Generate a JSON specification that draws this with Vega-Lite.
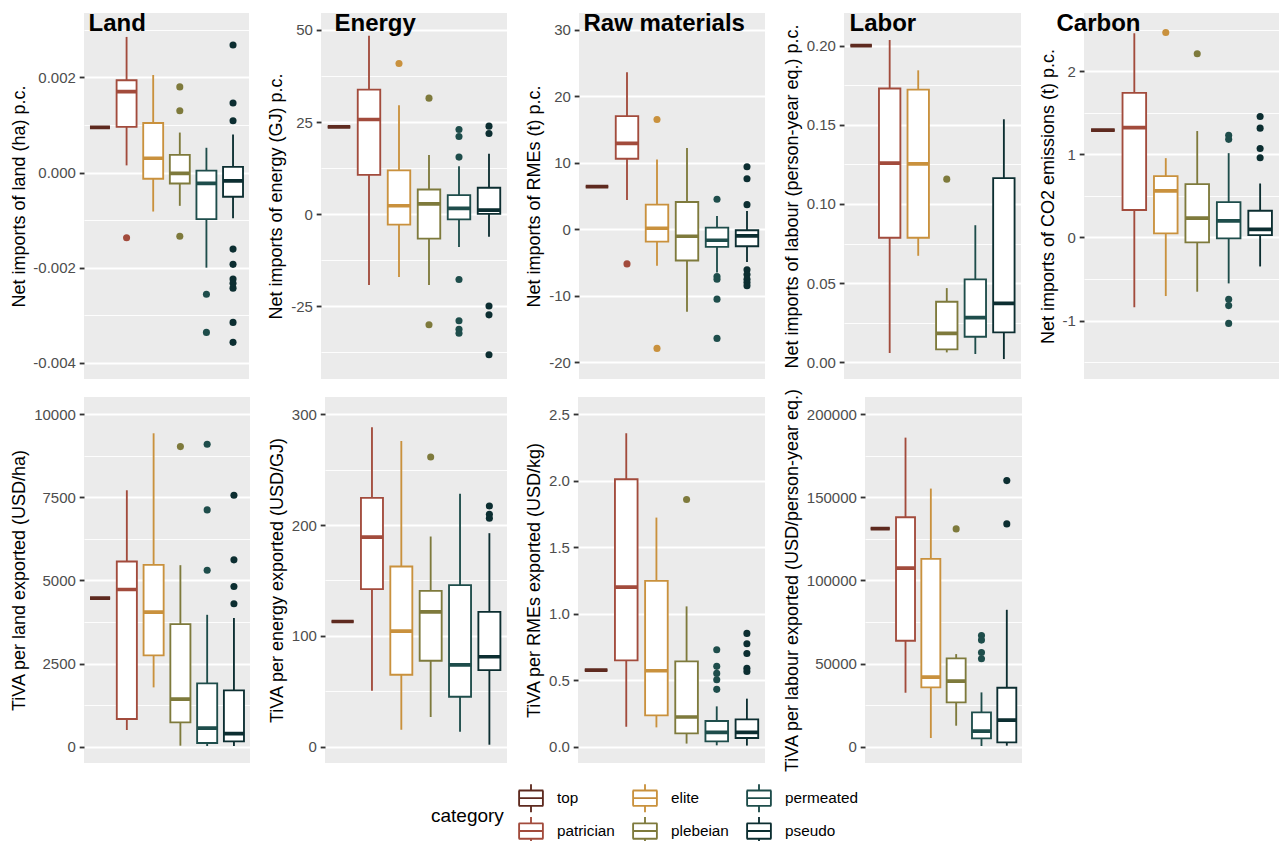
{
"$schema": "https://vega.github.io/schema/vega-lite/v6.json",
"background": "white",
"padding": {"left": 10, "top": 12, "right": 0, "bottom": 0},
"datasets": {
"boxes": [
{"p":"land_net","category":"top","lo":0.00095,"q1":0.00095,"med":0.00095,"q3":0.00095,"hi":0.00095},
{"p":"land_net","category":"patrician","lo":0.00015,"q1":0.00096,"med":0.0017,"q3":0.00194,"hi":0.00285},
{"p":"land_net","category":"elite","lo":-0.00082,"q1":-0.00013,"med":0.0003,"q3":0.00104,"hi":0.00205},
{"p":"land_net","category":"plebeian","lo":-0.0007,"q1":-0.00023,"med":-0.00002,"q3":0.00037,"hi":0.00084},
{"p":"land_net","category":"permeated","lo":-0.002,"q1":-0.00098,"med":-0.00023,"q3":0.00004,"hi":0.00052},
{"p":"land_net","category":"pseudo","lo":-0.00096,"q1":-0.00051,"med":-0.000175,"q3":0.00012,"hi":0.0008},
{"p":"energy_net","category":"top","lo":23.7,"q1":23.7,"med":23.7,"q3":23.7,"hi":23.7},
{"p":"energy_net","category":"patrician","lo":-19.2,"q1":10.7,"med":25.7,"q3":33.8,"hi":48.4},
{"p":"energy_net","category":"elite","lo":-17,"q1":-2.8,"med":2.3,"q3":11.9,"hi":29.6},
{"p":"energy_net","category":"plebeian","lo":-19.2,"q1":-6.6,"med":2.8,"q3":6.7,"hi":16.1},
{"p":"energy_net","category":"permeated","lo":-8.9,"q1":-1.4,"med":1.6,"q3":5.2,"hi":13},
{"p":"energy_net","category":"pseudo","lo":-6.1,"q1":0.1,"med":1.1,"q3":7.2,"hi":16.4},
{"p":"raw_net","category":"top","lo":6.4,"q1":6.4,"med":6.4,"q3":6.4,"hi":6.4},
{"p":"raw_net","category":"patrician","lo":4.4,"q1":10.6,"med":12.9,"q3":17.0,"hi":23.6},
{"p":"raw_net","category":"elite","lo":-5.5,"q1":-1.85,"med":0.15,"q3":3.7,"hi":10.5},
{"p":"raw_net","category":"plebeian","lo":-12.4,"q1":-4.7,"med":-1.05,"q3":4.1,"hi":12.2},
{"p":"raw_net","category":"permeated","lo":-6.5,"q1":-2.65,"med":-1.65,"q3":0.25,"hi":2.0},
{"p":"raw_net","category":"pseudo","lo":-4.9,"q1":-2.55,"med":-1.0,"q3":-0.15,"hi":2.75},
{"p":"labor_net","category":"top","lo":0.2,"q1":0.2,"med":0.2,"q3":0.2,"hi":0.2},
{"p":"labor_net","category":"patrician","lo":0.0059,"q1":0.0787,"med":0.1258,"q3":0.1729,"hi":0.2036},
{"p":"labor_net","category":"elite","lo":0.0673,"q1":0.0787,"med":0.1253,"q3":0.1722,"hi":0.1844},
{"p":"labor_net","category":"plebeian","lo":0.0063,"q1":0.0082,"med":0.0183,"q3":0.0383,"hi":0.0469},
{"p":"labor_net","category":"permeated","lo":0.0053,"q1":0.0162,"med":0.0282,"q3":0.0524,"hi":0.0866},
{"p":"labor_net","category":"pseudo","lo":0.0021,"q1":0.0189,"med":0.0372,"q3":0.1163,"hi":0.1535},
{"p":"carbon_net","category":"top","lo":1.29,"q1":1.29,"med":1.29,"q3":1.29,"hi":1.29},
{"p":"carbon_net","category":"patrician","lo":-0.84,"q1":0.33,"med":1.32,"q3":1.74,"hi":2.457},
{"p":"carbon_net","category":"elite","lo":-0.705,"q1":0.048,"med":0.561,"q3":0.737,"hi":0.954},
{"p":"carbon_net","category":"plebeian","lo":-0.653,"q1":-0.06,"med":0.232,"q3":0.641,"hi":1.28},
{"p":"carbon_net","category":"permeated","lo":-0.553,"q1":-0.012,"med":0.2,"q3":0.425,"hi":1.014},
{"p":"carbon_net","category":"pseudo","lo":-0.349,"q1":0.028,"med":0.096,"q3":0.321,"hi":0.649},
{"p":"land_tiva","category":"top","lo":4469,"q1":4469,"med":4469,"q3":4469,"hi":4469},
{"p":"land_tiva","category":"patrician","lo":501,"q1":832,"med":4729,"q3":5571,"hi":7715},
{"p":"land_tiva","category":"elite","lo":1784,"q1":2745,"med":4048,"q3":5471,"hi":9429},
{"p":"land_tiva","category":"plebeian","lo":30,"q1":731,"med":1433,"q3":3687,"hi":5461},
{"p":"land_tiva","category":"permeated","lo":20,"q1":110,"med":561,"q3":1904,"hi":3968},
{"p":"land_tiva","category":"pseudo","lo":20,"q1":160,"med":391,"q3":1693,"hi":3868},
{"p":"energy_tiva","category":"top","lo":113,"q1":113,"med":113,"q3":113,"hi":113},
{"p":"energy_tiva","category":"patrician","lo":50.5,"q1":142.2,"med":189.1,"q3":224.6,"hi":288.3},
{"p":"energy_tiva","category":"elite","lo":15.3,"q1":64.9,"med":104.3,"q3":162.6,"hi":276},
{"p":"energy_tiva","category":"plebeian","lo":26.8,"q1":77.6,"med":121.7,"q3":140.7,"hi":189.7},
{"p":"energy_tiva","category":"permeated","lo":13.5,"q1":45.1,"med":73.9,"q3":145.8,"hi":228.2},
{"p":"energy_tiva","category":"pseudo","lo":1.8,"q1":69.1,"med":81.2,"q3":121.7,"hi":192.7},
{"p":"raw_tiva","category":"top","lo":0.576,"q1":0.576,"med":0.576,"q3":0.576,"hi":0.576},
{"p":"raw_tiva","category":"patrician","lo":0.15,"q1":0.649,"med":1.2,"q3":2.011,"hi":2.357},
{"p":"raw_tiva","category":"elite","lo":0.145,"q1":0.235,"med":0.571,"q3":1.247,"hi":1.723},
{"p":"raw_tiva","category":"plebeian","lo":0.023,"q1":0.1,"med":0.223,"q3":0.641,"hi":1.055},
{"p":"raw_tiva","category":"permeated","lo":0.01,"q1":0.04,"med":0.108,"q3":0.193,"hi":0.303},
{"p":"raw_tiva","category":"pseudo","lo":0.008,"q1":0.065,"med":0.108,"q3":0.205,"hi":0.361},
{"p":"labor_tiva","category":"top","lo":131262,"q1":131262,"med":131262,"q3":131262,"hi":131262},
{"p":"labor_tiva","category":"patrician","lo":32465,"q1":63727,"med":107414,"q3":138076,"hi":185971},
{"p":"labor_tiva","category":"elite","lo":5210,"q1":35671,"med":41884,"q3":113026,"hi":155310},
{"p":"labor_tiva","category":"plebeian","lo":12625,"q1":26653,"med":39479,"q3":53106,"hi":55711},
{"p":"labor_tiva","category":"permeated","lo":401,"q1":5010,"med":9419,"q3":20641,"hi":32665},
{"p":"labor_tiva","category":"pseudo","lo":601,"q1":2605,"med":16032,"q3":35471,"hi":82364}
],
"outliers": [
{"p":"land_net","category":"patrician","v":-0.00137},
{"p":"land_net","category":"plebeian","v":0.0018},
{"p":"land_net","category":"plebeian","v":0.0013},
{"p":"land_net","category":"plebeian","v":-0.00134},
{"p":"land_net","category":"permeated","v":-0.00256},
{"p":"land_net","category":"permeated","v":-0.00336},
{"p":"land_net","category":"pseudo","v":0.00268},
{"p":"land_net","category":"pseudo","v":0.00146},
{"p":"land_net","category":"pseudo","v":0.00109},
{"p":"land_net","category":"pseudo","v":-0.00161},
{"p":"land_net","category":"pseudo","v":-0.00193},
{"p":"land_net","category":"pseudo","v":-0.00224},
{"p":"land_net","category":"pseudo","v":-0.00233},
{"p":"land_net","category":"pseudo","v":-0.00243},
{"p":"land_net","category":"pseudo","v":-0.00315},
{"p":"land_net","category":"pseudo","v":-0.00357},
{"p":"energy_net","category":"elite","v":40.9},
{"p":"energy_net","category":"plebeian","v":31.5},
{"p":"energy_net","category":"plebeian","v":-30},
{"p":"energy_net","category":"permeated","v":23},
{"p":"energy_net","category":"permeated","v":21.1},
{"p":"energy_net","category":"permeated","v":15.5},
{"p":"energy_net","category":"permeated","v":-17.7},
{"p":"energy_net","category":"permeated","v":-28.9},
{"p":"energy_net","category":"permeated","v":-31.2},
{"p":"energy_net","category":"permeated","v":-32.3},
{"p":"energy_net","category":"pseudo","v":23.9},
{"p":"energy_net","category":"pseudo","v":21.9},
{"p":"energy_net","category":"pseudo","v":-24.9},
{"p":"energy_net","category":"pseudo","v":-27.3},
{"p":"energy_net","category":"pseudo","v":-38.1},
{"p":"raw_net","category":"patrician","v":-5.2},
{"p":"raw_net","category":"elite","v":16.5},
{"p":"raw_net","category":"elite","v":-17.9},
{"p":"raw_net","category":"permeated","v":4.5},
{"p":"raw_net","category":"permeated","v":-7.1},
{"p":"raw_net","category":"permeated","v":-7.5},
{"p":"raw_net","category":"permeated","v":-10.5},
{"p":"raw_net","category":"permeated","v":-16.4},
{"p":"raw_net","category":"pseudo","v":9.4},
{"p":"raw_net","category":"pseudo","v":7.6},
{"p":"raw_net","category":"pseudo","v":3.7},
{"p":"raw_net","category":"pseudo","v":-6.1},
{"p":"raw_net","category":"pseudo","v":-6.8},
{"p":"raw_net","category":"pseudo","v":-7.5},
{"p":"raw_net","category":"pseudo","v":-8.0},
{"p":"raw_net","category":"pseudo","v":-8.5},
{"p":"labor_net","category":"plebeian","v":0.1157},
{"p":"carbon_net","category":"elite","v":2.465},
{"p":"carbon_net","category":"plebeian","v":2.21},
{"p":"carbon_net","category":"permeated","v":1.23},
{"p":"carbon_net","category":"permeated","v":1.18},
{"p":"carbon_net","category":"permeated","v":-0.745},
{"p":"carbon_net","category":"permeated","v":-0.82},
{"p":"carbon_net","category":"permeated","v":-1.034},
{"p":"carbon_net","category":"pseudo","v":1.455},
{"p":"carbon_net","category":"pseudo","v":1.315},
{"p":"carbon_net","category":"pseudo","v":1.07},
{"p":"carbon_net","category":"pseudo","v":0.958},
{"p":"land_tiva","category":"plebeian","v":9028},
{"p":"land_tiva","category":"permeated","v":9098},
{"p":"land_tiva","category":"permeated","v":7124},
{"p":"land_tiva","category":"permeated","v":5311},
{"p":"land_tiva","category":"pseudo","v":7565},
{"p":"land_tiva","category":"pseudo","v":5621},
{"p":"land_tiva","category":"pseudo","v":4820},
{"p":"land_tiva","category":"pseudo","v":4299},
{"p":"energy_tiva","category":"plebeian","v":261.5},
{"p":"energy_tiva","category":"pseudo","v":217.3},
{"p":"energy_tiva","category":"pseudo","v":209.8},
{"p":"energy_tiva","category":"pseudo","v":206.2},
{"p":"raw_tiva","category":"plebeian","v":1.859},
{"p":"raw_tiva","category":"permeated","v":0.729},
{"p":"raw_tiva","category":"permeated","v":0.604},
{"p":"raw_tiva","category":"permeated","v":0.551},
{"p":"raw_tiva","category":"permeated","v":0.503},
{"p":"raw_tiva","category":"permeated","v":0.431},
{"p":"raw_tiva","category":"pseudo","v":0.852},
{"p":"raw_tiva","category":"pseudo","v":0.774},
{"p":"raw_tiva","category":"pseudo","v":0.701},
{"p":"raw_tiva","category":"pseudo","v":0.589},
{"p":"raw_tiva","category":"pseudo","v":0.566},
{"p":"labor_tiva","category":"plebeian","v":131062},
{"p":"labor_tiva","category":"permeated","v":66934},
{"p":"labor_tiva","category":"permeated","v":64128},
{"p":"labor_tiva","category":"permeated","v":56713},
{"p":"labor_tiva","category":"permeated","v":52906},
{"p":"labor_tiva","category":"pseudo","v":160120},
{"p":"labor_tiva","category":"pseudo","v":134068}
]
},
"config": {
"font": "Liberation Sans",
"view": {"fill": "#EBEBEB", "stroke": null},
"axis": {"domain": false, "tickColor": "#333333", "tickWidth": 1.85, "tickSize": 4.8, "labelColor": "#4D4D4D", "labelFont": "Liberation Sans", "labelFontSize": 15, "labelPadding": 3.8, "labelOverlap": false, "titleFont": "Liberation Sans", "titleFontSize": 18, "titleFontWeight": "normal", "titleColor": "black", "titlePadding": 4.8, "gridColor": "white", "grid": true},
"legend": {"disable": true, "layout": {"bottom": {"anchor": "middle"}}}
},
"spacing": 8,
"vconcat": [
{"hconcat": [
{"width": 165, "height": 366,
"title": {"text": "Land", "anchor": "start", "frame": "group", "fontSize": 24, "fontWeight": "bold", "font": "Liberation Sans", "color": "black", "baseline": "top", "offset": -23, "dx": 4.5},
"layer": [
{"data": {"name": "boxes"}, "transform": [{"filter": "datum.p==='land_net'"}], "mark": {"type": "rule", "strokeWidth": 1.85},
"encoding": {"x": {"field": "category", "type": "nominal", "scale": {"type": "band", "domain": ["top","patrician","elite","plebeian","permeated","pseudo"], "paddingInner": 0.25, "paddingOuter": 0.225}, "axis": null},
"y": {"field": "lo", "type": "quantitative", "title": "Net imports of land (ha) p.c.", "scale": {"domain": [-0.00434, 0.003353], "nice": false, "zero": false},
"axis": {"values": [-0.004,-0.003,-0.002,-0.001,0,0.001,0.002,0.003], "labelExpr": "indexof([-0.004,-0.002,0,0.002],datum.value)>=0 ? replace(format(datum.value,'.3f'),'\u2212','-') : ''", "gridWidth": {"condition": {"test": "indexof([-0.004,-0.002,0,0.002],datum.value)>=0", "value": 1.85}, "value": 0.9}, "tickOpacity": {"condition": {"test": "indexof([-0.004,-0.002,0,0.002],datum.value)>=0", "value": 1}, "value": 0}}},
"y2": {"field": "hi"},
"color": {"field": "category", "type": "nominal", "scale": {"domain": ["top","elite","permeated","patrician","plebeian","pseudo"], "range": ["#5E2A1F","#C9913D","#1E4D4B","#A24B3C","#7E7A3C","#0C2E31"]}}}},
{"data": {"name": "boxes"}, "transform": [{"filter": "datum.p==='land_net'"}], "mark": {"type": "bar", "fill": "white", "strokeWidth": 1.85},
"encoding": {"x": {"field": "category", "type": "nominal", "scale": {"type": "band", "domain": ["top","patrician","elite","plebeian","permeated","pseudo"], "paddingInner": 0.25, "paddingOuter": 0.225}, "axis": null},
"y": {"field": "q1", "type": "quantitative", "title": "Net imports of land (ha) p.c."}, "y2": {"field": "q3"},
"stroke": {"field": "category", "type": "nominal", "scale": {"domain": ["top","elite","permeated","patrician","plebeian","pseudo"], "range": ["#5E2A1F","#C9913D","#1E4D4B","#A24B3C","#7E7A3C","#0C2E31"]},
"legend": {"title": "category", "orient": "bottom", "direction": "horizontal", "columns": 3, "symbolType": "M-0.88,-0.55H0.88 M0.85,-0.55V0.55 M0.88,0.55H-0.88 M-0.85,0.55V-0.55 M-0.85,0H0.85 M0,-1V-0.55 M0,0.55V1", "symbolSize": 784, "symbolStrokeWidth": 1.85, "symbolFillColor": "white", "labelFontSize": 15.3, "labelColor": "black", "titleFontSize": 19, "titleFontWeight": "normal", "titleColor": "black", "titleOrient": "left", "titleAnchor": "middle", "titleBaseline": "middle", "titlePadding": 12, "labelOffset": 11, "columnPadding": 13, "rowPadding": -5, "gridAlign": "each", "offset": 10}}}},
{"data": {"name": "boxes"}, "transform": [{"filter": "datum.p==='land_net'"}], "mark": {"type": "bar", "fillOpacity": 0, "strokeWidth": 3.7},
"encoding": {"x": {"field": "category", "type": "nominal", "scale": {"type": "band", "domain": ["top","patrician","elite","plebeian","permeated","pseudo"], "paddingInner": 0.25, "paddingOuter": 0.225}, "axis": null},
"y": {"field": "med", "type": "quantitative", "title": "Net imports of land (ha) p.c."}, "y2": {"field": "med"},
"stroke": {"field": "category", "type": "nominal", "scale": {"domain": ["top","elite","permeated","patrician","plebeian","pseudo"], "range": ["#5E2A1F","#C9913D","#1E4D4B","#A24B3C","#7E7A3C","#0C2E31"]}}}},
{"data": {"name": "outliers"}, "transform": [{"filter": "datum.p==='land_net'"}], "mark": {"type": "circle", "size": 50, "opacity": 1},
"encoding": {"x": {"field": "category", "type": "nominal", "scale": {"type": "band", "domain": ["top","patrician","elite","plebeian","permeated","pseudo"], "paddingInner": 0.25, "paddingOuter": 0.225}, "axis": null},
"y": {"field": "v", "type": "quantitative", "title": "Net imports of land (ha) p.c."},
"color": {"field": "category", "type": "nominal", "scale": {"domain": ["top","elite","permeated","patrician","plebeian","pseudo"], "range": ["#5E2A1F","#C9913D","#1E4D4B","#A24B3C","#7E7A3C","#0C2E31"]}}}}
]},
{"width": 186, "height": 366,
"title": {"text": "Energy", "anchor": "start", "frame": "group", "fontSize": 24, "fontWeight": "bold", "font": "Liberation Sans", "color": "black", "baseline": "top", "offset": -23, "dx": 13.5},
"layer": [
{"data": {"name": "boxes"}, "transform": [{"filter": "datum.p==='energy_net'"}], "mark": {"type": "rule", "strokeWidth": 1.85},
"encoding": {"x": {"field": "category", "type": "nominal", "scale": {"type": "band", "domain": ["top","patrician","elite","plebeian","permeated","pseudo"], "paddingInner": 0.25, "paddingOuter": 0.225}, "axis": null},
"y": {"field": "lo", "type": "quantitative", "title": "Net imports of energy (GJ) p.c.", "scale": {"domain": [-44.7, 54.6], "nice": false, "zero": false},
"axis": {"values": [-37.5,-25,-12.5,0,12.5,25,37.5,50], "labelExpr": "indexof([-25,0,25,50],datum.value)>=0 ? replace(format(datum.value,'d'),'\u2212','-') : ''", "gridWidth": {"condition": {"test": "indexof([-25,0,25,50],datum.value)>=0", "value": 1.85}, "value": 0.9}, "tickOpacity": {"condition": {"test": "indexof([-25,0,25,50],datum.value)>=0", "value": 1}, "value": 0}}},
"y2": {"field": "hi"},
"color": {"field": "category", "type": "nominal", "scale": {"domain": ["top","elite","permeated","patrician","plebeian","pseudo"], "range": ["#5E2A1F","#C9913D","#1E4D4B","#A24B3C","#7E7A3C","#0C2E31"]}}}},
{"data": {"name": "boxes"}, "transform": [{"filter": "datum.p==='energy_net'"}], "mark": {"type": "bar", "fill": "white", "strokeWidth": 1.85},
"encoding": {"x": {"field": "category", "type": "nominal", "scale": {"type": "band", "domain": ["top","patrician","elite","plebeian","permeated","pseudo"], "paddingInner": 0.25, "paddingOuter": 0.225}, "axis": null},
"y": {"field": "q1", "type": "quantitative", "title": "Net imports of energy (GJ) p.c."}, "y2": {"field": "q3"},
"stroke": {"field": "category", "type": "nominal", "scale": {"domain": ["top","elite","permeated","patrician","plebeian","pseudo"], "range": ["#5E2A1F","#C9913D","#1E4D4B","#A24B3C","#7E7A3C","#0C2E31"]}}}},
{"data": {"name": "boxes"}, "transform": [{"filter": "datum.p==='energy_net'"}], "mark": {"type": "bar", "fillOpacity": 0, "strokeWidth": 3.7},
"encoding": {"x": {"field": "category", "type": "nominal", "scale": {"type": "band", "domain": ["top","patrician","elite","plebeian","permeated","pseudo"], "paddingInner": 0.25, "paddingOuter": 0.225}, "axis": null},
"y": {"field": "med", "type": "quantitative", "title": "Net imports of energy (GJ) p.c."}, "y2": {"field": "med"},
"stroke": {"field": "category", "type": "nominal", "scale": {"domain": ["top","elite","permeated","patrician","plebeian","pseudo"], "range": ["#5E2A1F","#C9913D","#1E4D4B","#A24B3C","#7E7A3C","#0C2E31"]}}}},
{"data": {"name": "outliers"}, "transform": [{"filter": "datum.p==='energy_net'"}], "mark": {"type": "circle", "size": 50, "opacity": 1},
"encoding": {"x": {"field": "category", "type": "nominal", "scale": {"type": "band", "domain": ["top","patrician","elite","plebeian","permeated","pseudo"], "paddingInner": 0.25, "paddingOuter": 0.225}, "axis": null},
"y": {"field": "v", "type": "quantitative", "title": "Net imports of energy (GJ) p.c."},
"color": {"field": "category", "type": "nominal", "scale": {"domain": ["top","elite","permeated","patrician","plebeian","pseudo"], "range": ["#5E2A1F","#C9913D","#1E4D4B","#A24B3C","#7E7A3C","#0C2E31"]}}}}
]},
{"width": 186, "height": 366,
"title": {"text": "Raw materials", "anchor": "start", "frame": "group", "fontSize": 24, "fontWeight": "bold", "font": "Liberation Sans", "color": "black", "baseline": "top", "offset": -23, "dx": 4.5},
"layer": [
{"data": {"name": "boxes"}, "transform": [{"filter": "datum.p==='raw_net'"}], "mark": {"type": "rule", "strokeWidth": 1.85},
"encoding": {"x": {"field": "category", "type": "nominal", "scale": {"type": "band", "domain": ["top","patrician","elite","plebeian","permeated","pseudo"], "paddingInner": 0.25, "paddingOuter": 0.225}, "axis": null},
"y": {"field": "lo", "type": "quantitative", "title": "Net imports of RMEs (t) p.c.", "scale": {"domain": [-22.5, 32.5], "nice": false, "zero": false},
"axis": {"values": [-20,-15,-10,-5,0,5,10,15,20,25,30], "labelExpr": "indexof([-20,-10,0,10,20,30],datum.value)>=0 ? replace(format(datum.value,'d'),'\u2212','-') : ''", "gridWidth": {"condition": {"test": "indexof([-20,-10,0,10,20,30],datum.value)>=0", "value": 1.85}, "value": 0.9}, "tickOpacity": {"condition": {"test": "indexof([-20,-10,0,10,20,30],datum.value)>=0", "value": 1}, "value": 0}}},
"y2": {"field": "hi"},
"color": {"field": "category", "type": "nominal", "scale": {"domain": ["top","elite","permeated","patrician","plebeian","pseudo"], "range": ["#5E2A1F","#C9913D","#1E4D4B","#A24B3C","#7E7A3C","#0C2E31"]}}}},
{"data": {"name": "boxes"}, "transform": [{"filter": "datum.p==='raw_net'"}], "mark": {"type": "bar", "fill": "white", "strokeWidth": 1.85},
"encoding": {"x": {"field": "category", "type": "nominal", "scale": {"type": "band", "domain": ["top","patrician","elite","plebeian","permeated","pseudo"], "paddingInner": 0.25, "paddingOuter": 0.225}, "axis": null},
"y": {"field": "q1", "type": "quantitative", "title": "Net imports of RMEs (t) p.c."}, "y2": {"field": "q3"},
"stroke": {"field": "category", "type": "nominal", "scale": {"domain": ["top","elite","permeated","patrician","plebeian","pseudo"], "range": ["#5E2A1F","#C9913D","#1E4D4B","#A24B3C","#7E7A3C","#0C2E31"]}}}},
{"data": {"name": "boxes"}, "transform": [{"filter": "datum.p==='raw_net'"}], "mark": {"type": "bar", "fillOpacity": 0, "strokeWidth": 3.7},
"encoding": {"x": {"field": "category", "type": "nominal", "scale": {"type": "band", "domain": ["top","patrician","elite","plebeian","permeated","pseudo"], "paddingInner": 0.25, "paddingOuter": 0.225}, "axis": null},
"y": {"field": "med", "type": "quantitative", "title": "Net imports of RMEs (t) p.c."}, "y2": {"field": "med"},
"stroke": {"field": "category", "type": "nominal", "scale": {"domain": ["top","elite","permeated","patrician","plebeian","pseudo"], "range": ["#5E2A1F","#C9913D","#1E4D4B","#A24B3C","#7E7A3C","#0C2E31"]}}}},
{"data": {"name": "outliers"}, "transform": [{"filter": "datum.p==='raw_net'"}], "mark": {"type": "circle", "size": 50, "opacity": 1},
"encoding": {"x": {"field": "category", "type": "nominal", "scale": {"type": "band", "domain": ["top","patrician","elite","plebeian","permeated","pseudo"], "paddingInner": 0.25, "paddingOuter": 0.225}, "axis": null},
"y": {"field": "v", "type": "quantitative", "title": "Net imports of RMEs (t) p.c."},
"color": {"field": "category", "type": "nominal", "scale": {"domain": ["top","elite","permeated","patrician","plebeian","pseudo"], "range": ["#5E2A1F","#C9913D","#1E4D4B","#A24B3C","#7E7A3C","#0C2E31"]}}}}
]},
{"width": 177, "height": 366,
"title": {"text": "Labor", "anchor": "start", "frame": "group", "fontSize": 24, "fontWeight": "bold", "font": "Liberation Sans", "color": "black", "baseline": "top", "offset": -23, "dx": 5.5},
"layer": [
{"data": {"name": "boxes"}, "transform": [{"filter": "datum.p==='labor_net'"}], "mark": {"type": "rule", "strokeWidth": 1.85},
"encoding": {"x": {"field": "category", "type": "nominal", "scale": {"type": "band", "domain": ["top","patrician","elite","plebeian","permeated","pseudo"], "paddingInner": 0.25, "paddingOuter": 0.225}, "axis": null},
"y": {"field": "lo", "type": "quantitative", "title": "Net imports of labour (person-year eq.) p.c.", "scale": {"domain": [-0.0105, 0.2206], "nice": false, "zero": false},
"axis": {"values": [0,0.025,0.05,0.075,0.1,0.125,0.15,0.175,0.2], "labelExpr": "indexof([0,0.05,0.1,0.15,0.2],datum.value)>=0 ? format(datum.value,'.2f') : ''", "gridWidth": {"condition": {"test": "indexof([0,0.05,0.1,0.15,0.2],datum.value)>=0", "value": 1.85}, "value": 0.9}, "tickOpacity": {"condition": {"test": "indexof([0,0.05,0.1,0.15,0.2],datum.value)>=0", "value": 1}, "value": 0}}},
"y2": {"field": "hi"},
"color": {"field": "category", "type": "nominal", "scale": {"domain": ["top","elite","permeated","patrician","plebeian","pseudo"], "range": ["#5E2A1F","#C9913D","#1E4D4B","#A24B3C","#7E7A3C","#0C2E31"]}}}},
{"data": {"name": "boxes"}, "transform": [{"filter": "datum.p==='labor_net'"}], "mark": {"type": "bar", "fill": "white", "strokeWidth": 1.85},
"encoding": {"x": {"field": "category", "type": "nominal", "scale": {"type": "band", "domain": ["top","patrician","elite","plebeian","permeated","pseudo"], "paddingInner": 0.25, "paddingOuter": 0.225}, "axis": null},
"y": {"field": "q1", "type": "quantitative", "title": "Net imports of labour (person-year eq.) p.c."}, "y2": {"field": "q3"},
"stroke": {"field": "category", "type": "nominal", "scale": {"domain": ["top","elite","permeated","patrician","plebeian","pseudo"], "range": ["#5E2A1F","#C9913D","#1E4D4B","#A24B3C","#7E7A3C","#0C2E31"]}}}},
{"data": {"name": "boxes"}, "transform": [{"filter": "datum.p==='labor_net'"}], "mark": {"type": "bar", "fillOpacity": 0, "strokeWidth": 3.7},
"encoding": {"x": {"field": "category", "type": "nominal", "scale": {"type": "band", "domain": ["top","patrician","elite","plebeian","permeated","pseudo"], "paddingInner": 0.25, "paddingOuter": 0.225}, "axis": null},
"y": {"field": "med", "type": "quantitative", "title": "Net imports of labour (person-year eq.) p.c."}, "y2": {"field": "med"},
"stroke": {"field": "category", "type": "nominal", "scale": {"domain": ["top","elite","permeated","patrician","plebeian","pseudo"], "range": ["#5E2A1F","#C9913D","#1E4D4B","#A24B3C","#7E7A3C","#0C2E31"]}}}},
{"data": {"name": "outliers"}, "transform": [{"filter": "datum.p==='labor_net'"}], "mark": {"type": "circle", "size": 50, "opacity": 1},
"encoding": {"x": {"field": "category", "type": "nominal", "scale": {"type": "band", "domain": ["top","patrician","elite","plebeian","permeated","pseudo"], "paddingInner": 0.25, "paddingOuter": 0.225}, "axis": null},
"y": {"field": "v", "type": "quantitative", "title": "Net imports of labour (person-year eq.) p.c."},
"color": {"field": "category", "type": "nominal", "scale": {"domain": ["top","elite","permeated","patrician","plebeian","pseudo"], "range": ["#5E2A1F","#C9913D","#1E4D4B","#A24B3C","#7E7A3C","#0C2E31"]}}}}
]},
{"width": 195, "height": 366,
"title": {"text": "Carbon", "anchor": "start", "frame": "group", "fontSize": 24, "fontWeight": "bold", "font": "Liberation Sans", "color": "black", "baseline": "top", "offset": -23, "dx": -27.5},
"layer": [
{"data": {"name": "boxes"}, "transform": [{"filter": "datum.p==='carbon_net'"}], "mark": {"type": "rule", "strokeWidth": 1.85},
"encoding": {"x": {"field": "category", "type": "nominal", "scale": {"type": "band", "domain": ["top","patrician","elite","plebeian","permeated","pseudo"], "paddingInner": 0.25, "paddingOuter": 0.225}, "axis": null},
"y": {"field": "lo", "type": "quantitative", "title": "Net imports of CO2 emissions (t) p.c.", "scale": {"domain": [-1.703, 2.70], "nice": false, "zero": false},
"axis": {"values": [-1.5,-1,-0.5,0,0.5,1,1.5,2,2.5], "labelExpr": "indexof([-1,0,1,2],datum.value)>=0 ? replace(format(datum.value,'d'),'\u2212','-') : ''", "gridWidth": {"condition": {"test": "indexof([-1,0,1,2],datum.value)>=0", "value": 1.85}, "value": 0.9}, "tickOpacity": {"condition": {"test": "indexof([-1,0,1,2],datum.value)>=0", "value": 1}, "value": 0}}},
"y2": {"field": "hi"},
"color": {"field": "category", "type": "nominal", "scale": {"domain": ["top","elite","permeated","patrician","plebeian","pseudo"], "range": ["#5E2A1F","#C9913D","#1E4D4B","#A24B3C","#7E7A3C","#0C2E31"]}}}},
{"data": {"name": "boxes"}, "transform": [{"filter": "datum.p==='carbon_net'"}], "mark": {"type": "bar", "fill": "white", "strokeWidth": 1.85},
"encoding": {"x": {"field": "category", "type": "nominal", "scale": {"type": "band", "domain": ["top","patrician","elite","plebeian","permeated","pseudo"], "paddingInner": 0.25, "paddingOuter": 0.225}, "axis": null},
"y": {"field": "q1", "type": "quantitative", "title": "Net imports of CO2 emissions (t) p.c."}, "y2": {"field": "q3"},
"stroke": {"field": "category", "type": "nominal", "scale": {"domain": ["top","elite","permeated","patrician","plebeian","pseudo"], "range": ["#5E2A1F","#C9913D","#1E4D4B","#A24B3C","#7E7A3C","#0C2E31"]}}}},
{"data": {"name": "boxes"}, "transform": [{"filter": "datum.p==='carbon_net'"}], "mark": {"type": "bar", "fillOpacity": 0, "strokeWidth": 3.7},
"encoding": {"x": {"field": "category", "type": "nominal", "scale": {"type": "band", "domain": ["top","patrician","elite","plebeian","permeated","pseudo"], "paddingInner": 0.25, "paddingOuter": 0.225}, "axis": null},
"y": {"field": "med", "type": "quantitative", "title": "Net imports of CO2 emissions (t) p.c."}, "y2": {"field": "med"},
"stroke": {"field": "category", "type": "nominal", "scale": {"domain": ["top","elite","permeated","patrician","plebeian","pseudo"], "range": ["#5E2A1F","#C9913D","#1E4D4B","#A24B3C","#7E7A3C","#0C2E31"]}}}},
{"data": {"name": "outliers"}, "transform": [{"filter": "datum.p==='carbon_net'"}], "mark": {"type": "circle", "size": 50, "opacity": 1},
"encoding": {"x": {"field": "category", "type": "nominal", "scale": {"type": "band", "domain": ["top","patrician","elite","plebeian","permeated","pseudo"], "paddingInner": 0.25, "paddingOuter": 0.225}, "axis": null},
"y": {"field": "v", "type": "quantitative", "title": "Net imports of CO2 emissions (t) p.c."},
"color": {"field": "category", "type": "nominal", "scale": {"domain": ["top","elite","permeated","patrician","plebeian","pseudo"], "range": ["#5E2A1F","#C9913D","#1E4D4B","#A24B3C","#7E7A3C","#0C2E31"]}}}}
]}
], "spacing": 18},
{"hconcat": [
{"width": 166, "height": 366,
"layer": [
{"data": {"name": "boxes"}, "transform": [{"filter": "datum.p==='land_tiva'"}], "mark": {"type": "rule", "strokeWidth": 1.85},
"encoding": {"x": {"field": "category", "type": "nominal", "scale": {"type": "band", "domain": ["top","patrician","elite","plebeian","permeated","pseudo"], "paddingInner": 0.25, "paddingOuter": 0.225}, "axis": null},
"y": {"field": "lo", "type": "quantitative", "title": "TiVA per land exported (USD/ha)", "scale": {"domain": [-491, 10521], "nice": false, "zero": false},
"axis": {"values": [0,1250,2500,3750,5000,6250,7500,8750,10000], "labelExpr": "indexof([0,2500,5000,7500,10000],datum.value)>=0 ? format(datum.value,'d') : ''", "gridWidth": {"condition": {"test": "indexof([0,2500,5000,7500,10000],datum.value)>=0", "value": 1.85}, "value": 0.9}, "tickOpacity": {"condition": {"test": "indexof([0,2500,5000,7500,10000],datum.value)>=0", "value": 1}, "value": 0}}},
"y2": {"field": "hi"},
"color": {"field": "category", "type": "nominal", "scale": {"domain": ["top","elite","permeated","patrician","plebeian","pseudo"], "range": ["#5E2A1F","#C9913D","#1E4D4B","#A24B3C","#7E7A3C","#0C2E31"]}}}},
{"data": {"name": "boxes"}, "transform": [{"filter": "datum.p==='land_tiva'"}], "mark": {"type": "bar", "fill": "white", "strokeWidth": 1.85},
"encoding": {"x": {"field": "category", "type": "nominal", "scale": {"type": "band", "domain": ["top","patrician","elite","plebeian","permeated","pseudo"], "paddingInner": 0.25, "paddingOuter": 0.225}, "axis": null},
"y": {"field": "q1", "type": "quantitative", "title": "TiVA per land exported (USD/ha)"}, "y2": {"field": "q3"},
"stroke": {"field": "category", "type": "nominal", "scale": {"domain": ["top","elite","permeated","patrician","plebeian","pseudo"], "range": ["#5E2A1F","#C9913D","#1E4D4B","#A24B3C","#7E7A3C","#0C2E31"]}}}},
{"data": {"name": "boxes"}, "transform": [{"filter": "datum.p==='land_tiva'"}], "mark": {"type": "bar", "fillOpacity": 0, "strokeWidth": 3.7},
"encoding": {"x": {"field": "category", "type": "nominal", "scale": {"type": "band", "domain": ["top","patrician","elite","plebeian","permeated","pseudo"], "paddingInner": 0.25, "paddingOuter": 0.225}, "axis": null},
"y": {"field": "med", "type": "quantitative", "title": "TiVA per land exported (USD/ha)"}, "y2": {"field": "med"},
"stroke": {"field": "category", "type": "nominal", "scale": {"domain": ["top","elite","permeated","patrician","plebeian","pseudo"], "range": ["#5E2A1F","#C9913D","#1E4D4B","#A24B3C","#7E7A3C","#0C2E31"]}}}},
{"data": {"name": "outliers"}, "transform": [{"filter": "datum.p==='land_tiva'"}], "mark": {"type": "circle", "size": 50, "opacity": 1},
"encoding": {"x": {"field": "category", "type": "nominal", "scale": {"type": "band", "domain": ["top","patrician","elite","plebeian","permeated","pseudo"], "paddingInner": 0.25, "paddingOuter": 0.225}, "axis": null},
"y": {"field": "v", "type": "quantitative", "title": "TiVA per land exported (USD/ha)"},
"color": {"field": "category", "type": "nominal", "scale": {"domain": ["top","elite","permeated","patrician","plebeian","pseudo"], "range": ["#5E2A1F","#C9913D","#1E4D4B","#A24B3C","#7E7A3C","#0C2E31"]}}}}
]},
{"width": 182, "height": 366,
"layer": [
{"data": {"name": "boxes"}, "transform": [{"filter": "datum.p==='energy_tiva'"}], "mark": {"type": "rule", "strokeWidth": 1.85},
"encoding": {"x": {"field": "category", "type": "nominal", "scale": {"type": "band", "domain": ["top","patrician","elite","plebeian","permeated","pseudo"], "paddingInner": 0.25, "paddingOuter": 0.225}, "axis": null},
"y": {"field": "lo", "type": "quantitative", "title": "TiVA per energy exported (USD/GJ)", "scale": {"domain": [-14.7, 315.6], "nice": false, "zero": false},
"axis": {"values": [0,50,100,150,200,250,300], "labelExpr": "indexof([0,100,200,300],datum.value)>=0 ? format(datum.value,'d') : ''", "gridWidth": {"condition": {"test": "indexof([0,100,200,300],datum.value)>=0", "value": 1.85}, "value": 0.9}, "tickOpacity": {"condition": {"test": "indexof([0,100,200,300],datum.value)>=0", "value": 1}, "value": 0}}},
"y2": {"field": "hi"},
"color": {"field": "category", "type": "nominal", "scale": {"domain": ["top","elite","permeated","patrician","plebeian","pseudo"], "range": ["#5E2A1F","#C9913D","#1E4D4B","#A24B3C","#7E7A3C","#0C2E31"]}}}},
{"data": {"name": "boxes"}, "transform": [{"filter": "datum.p==='energy_tiva'"}], "mark": {"type": "bar", "fill": "white", "strokeWidth": 1.85},
"encoding": {"x": {"field": "category", "type": "nominal", "scale": {"type": "band", "domain": ["top","patrician","elite","plebeian","permeated","pseudo"], "paddingInner": 0.25, "paddingOuter": 0.225}, "axis": null},
"y": {"field": "q1", "type": "quantitative", "title": "TiVA per energy exported (USD/GJ)"}, "y2": {"field": "q3"},
"stroke": {"field": "category", "type": "nominal", "scale": {"domain": ["top","elite","permeated","patrician","plebeian","pseudo"], "range": ["#5E2A1F","#C9913D","#1E4D4B","#A24B3C","#7E7A3C","#0C2E31"]}}}},
{"data": {"name": "boxes"}, "transform": [{"filter": "datum.p==='energy_tiva'"}], "mark": {"type": "bar", "fillOpacity": 0, "strokeWidth": 3.7},
"encoding": {"x": {"field": "category", "type": "nominal", "scale": {"type": "band", "domain": ["top","patrician","elite","plebeian","permeated","pseudo"], "paddingInner": 0.25, "paddingOuter": 0.225}, "axis": null},
"y": {"field": "med", "type": "quantitative", "title": "TiVA per energy exported (USD/GJ)"}, "y2": {"field": "med"},
"stroke": {"field": "category", "type": "nominal", "scale": {"domain": ["top","elite","permeated","patrician","plebeian","pseudo"], "range": ["#5E2A1F","#C9913D","#1E4D4B","#A24B3C","#7E7A3C","#0C2E31"]}}}},
{"data": {"name": "outliers"}, "transform": [{"filter": "datum.p==='energy_tiva'"}], "mark": {"type": "circle", "size": 50, "opacity": 1},
"encoding": {"x": {"field": "category", "type": "nominal", "scale": {"type": "band", "domain": ["top","patrician","elite","plebeian","permeated","pseudo"], "paddingInner": 0.25, "paddingOuter": 0.225}, "axis": null},
"y": {"field": "v", "type": "quantitative", "title": "TiVA per energy exported (USD/GJ)"},
"color": {"field": "category", "type": "nominal", "scale": {"domain": ["top","elite","permeated","patrician","plebeian","pseudo"], "range": ["#5E2A1F","#C9913D","#1E4D4B","#A24B3C","#7E7A3C","#0C2E31"]}}}}
]},
{"width": 187, "height": 366,
"layer": [
{"data": {"name": "boxes"}, "transform": [{"filter": "datum.p==='raw_tiva'"}], "mark": {"type": "rule", "strokeWidth": 1.85},
"encoding": {"x": {"field": "category", "type": "nominal", "scale": {"type": "band", "domain": ["top","patrician","elite","plebeian","permeated","pseudo"], "paddingInner": 0.25, "paddingOuter": 0.225}, "axis": null},
"y": {"field": "lo", "type": "quantitative", "title": "TiVA per RMEs exported (USD/kg)", "scale": {"domain": [-0.123, 2.63], "nice": false, "zero": false},
"axis": {"values": [0,0.25,0.5,0.75,1,1.25,1.5,1.75,2,2.25,2.5], "labelExpr": "indexof([0,0.5,1,1.5,2,2.5],datum.value)>=0 ? format(datum.value,'.1f') : ''", "gridWidth": {"condition": {"test": "indexof([0,0.5,1,1.5,2,2.5],datum.value)>=0", "value": 1.85}, "value": 0.9}, "tickOpacity": {"condition": {"test": "indexof([0,0.5,1,1.5,2,2.5],datum.value)>=0", "value": 1}, "value": 0}}},
"y2": {"field": "hi"},
"color": {"field": "category", "type": "nominal", "scale": {"domain": ["top","elite","permeated","patrician","plebeian","pseudo"], "range": ["#5E2A1F","#C9913D","#1E4D4B","#A24B3C","#7E7A3C","#0C2E31"]}}}},
{"data": {"name": "boxes"}, "transform": [{"filter": "datum.p==='raw_tiva'"}], "mark": {"type": "bar", "fill": "white", "strokeWidth": 1.85},
"encoding": {"x": {"field": "category", "type": "nominal", "scale": {"type": "band", "domain": ["top","patrician","elite","plebeian","permeated","pseudo"], "paddingInner": 0.25, "paddingOuter": 0.225}, "axis": null},
"y": {"field": "q1", "type": "quantitative", "title": "TiVA per RMEs exported (USD/kg)"}, "y2": {"field": "q3"},
"stroke": {"field": "category", "type": "nominal", "scale": {"domain": ["top","elite","permeated","patrician","plebeian","pseudo"], "range": ["#5E2A1F","#C9913D","#1E4D4B","#A24B3C","#7E7A3C","#0C2E31"]}}}},
{"data": {"name": "boxes"}, "transform": [{"filter": "datum.p==='raw_tiva'"}], "mark": {"type": "bar", "fillOpacity": 0, "strokeWidth": 3.7},
"encoding": {"x": {"field": "category", "type": "nominal", "scale": {"type": "band", "domain": ["top","patrician","elite","plebeian","permeated","pseudo"], "paddingInner": 0.25, "paddingOuter": 0.225}, "axis": null},
"y": {"field": "med", "type": "quantitative", "title": "TiVA per RMEs exported (USD/kg)"}, "y2": {"field": "med"},
"stroke": {"field": "category", "type": "nominal", "scale": {"domain": ["top","elite","permeated","patrician","plebeian","pseudo"], "range": ["#5E2A1F","#C9913D","#1E4D4B","#A24B3C","#7E7A3C","#0C2E31"]}}}},
{"data": {"name": "outliers"}, "transform": [{"filter": "datum.p==='raw_tiva'"}], "mark": {"type": "circle", "size": 50, "opacity": 1},
"encoding": {"x": {"field": "category", "type": "nominal", "scale": {"type": "band", "domain": ["top","patrician","elite","plebeian","permeated","pseudo"], "paddingInner": 0.25, "paddingOuter": 0.225}, "axis": null},
"y": {"field": "v", "type": "quantitative", "title": "TiVA per RMEs exported (USD/kg)"},
"color": {"field": "category", "type": "nominal", "scale": {"domain": ["top","elite","permeated","patrician","plebeian","pseudo"], "range": ["#5E2A1F","#C9913D","#1E4D4B","#A24B3C","#7E7A3C","#0C2E31"]}}}}
]},
{"width": 157, "height": 366,
"layer": [
{"data": {"name": "boxes"}, "transform": [{"filter": "datum.p==='labor_tiva'"}], "mark": {"type": "rule", "strokeWidth": 1.85},
"encoding": {"x": {"field": "category", "type": "nominal", "scale": {"type": "band", "domain": ["top","patrician","elite","plebeian","permeated","pseudo"], "paddingInner": 0.25, "paddingOuter": 0.225}, "axis": null},
"y": {"field": "lo", "type": "quantitative", "title": "TiVA per labour exported (USD/person-year eq.)", "scale": {"domain": [-9820, 210420], "nice": false, "zero": false},
"axis": {"values": [0,25000,50000,75000,100000,125000,150000,175000,200000], "labelExpr": "indexof([0,50000,100000,150000,200000],datum.value)>=0 ? format(datum.value,'d') : ''", "gridWidth": {"condition": {"test": "indexof([0,50000,100000,150000,200000],datum.value)>=0", "value": 1.85}, "value": 0.9}, "tickOpacity": {"condition": {"test": "indexof([0,50000,100000,150000,200000],datum.value)>=0", "value": 1}, "value": 0}}},
"y2": {"field": "hi"},
"color": {"field": "category", "type": "nominal", "scale": {"domain": ["top","elite","permeated","patrician","plebeian","pseudo"], "range": ["#5E2A1F","#C9913D","#1E4D4B","#A24B3C","#7E7A3C","#0C2E31"]}}}},
{"data": {"name": "boxes"}, "transform": [{"filter": "datum.p==='labor_tiva'"}], "mark": {"type": "bar", "fill": "white", "strokeWidth": 1.85},
"encoding": {"x": {"field": "category", "type": "nominal", "scale": {"type": "band", "domain": ["top","patrician","elite","plebeian","permeated","pseudo"], "paddingInner": 0.25, "paddingOuter": 0.225}, "axis": null},
"y": {"field": "q1", "type": "quantitative", "title": "TiVA per labour exported (USD/person-year eq.)"}, "y2": {"field": "q3"},
"stroke": {"field": "category", "type": "nominal", "scale": {"domain": ["top","elite","permeated","patrician","plebeian","pseudo"], "range": ["#5E2A1F","#C9913D","#1E4D4B","#A24B3C","#7E7A3C","#0C2E31"]}}}},
{"data": {"name": "boxes"}, "transform": [{"filter": "datum.p==='labor_tiva'"}], "mark": {"type": "bar", "fillOpacity": 0, "strokeWidth": 3.7},
"encoding": {"x": {"field": "category", "type": "nominal", "scale": {"type": "band", "domain": ["top","patrician","elite","plebeian","permeated","pseudo"], "paddingInner": 0.25, "paddingOuter": 0.225}, "axis": null},
"y": {"field": "med", "type": "quantitative", "title": "TiVA per labour exported (USD/person-year eq.)"}, "y2": {"field": "med"},
"stroke": {"field": "category", "type": "nominal", "scale": {"domain": ["top","elite","permeated","patrician","plebeian","pseudo"], "range": ["#5E2A1F","#C9913D","#1E4D4B","#A24B3C","#7E7A3C","#0C2E31"]}}}},
{"data": {"name": "outliers"}, "transform": [{"filter": "datum.p==='labor_tiva'"}], "mark": {"type": "circle", "size": 50, "opacity": 1},
"encoding": {"x": {"field": "category", "type": "nominal", "scale": {"type": "band", "domain": ["top","patrician","elite","plebeian","permeated","pseudo"], "paddingInner": 0.25, "paddingOuter": 0.225}, "axis": null},
"y": {"field": "v", "type": "quantitative", "title": "TiVA per labour exported (USD/person-year eq.)"},
"color": {"field": "category", "type": "nominal", "scale": {"domain": ["top","elite","permeated","patrician","plebeian","pseudo"], "range": ["#5E2A1F","#C9913D","#1E4D4B","#A24B3C","#7E7A3C","#0C2E31"]}}}}
]}
], "spacing": 18}
]
}
